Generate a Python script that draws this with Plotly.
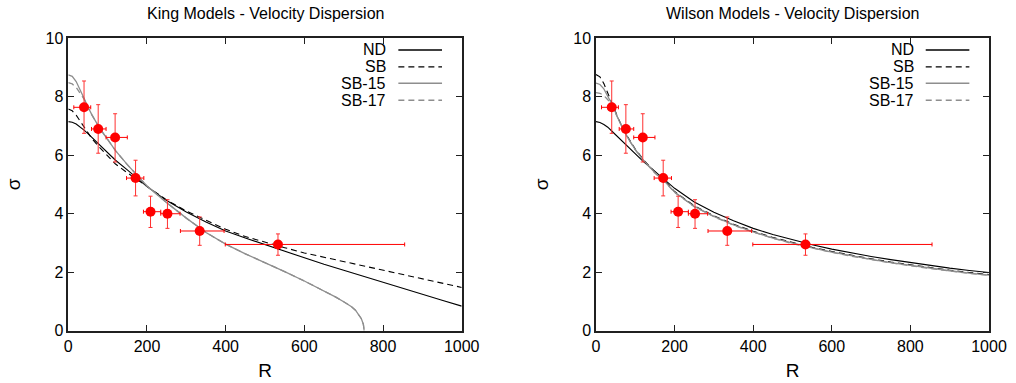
import plotly.graph_objects as go

# ---------------- data ----------------
R = [0, 10, 20, 30, 40, 50, 60, 80, 100, 120, 150, 175, 200, 250, 300, 350, 400,
     450, 500, 550, 600, 650, 700, 750, 800, 850, 900, 950, 1000]

king_nd = [7.15, 7.13, 7.07, 6.98, 6.86, 6.74, 6.61, 6.34, 6.07, 5.83, 5.50, 5.23, 4.93,
           4.45, 4.06, 3.72, 3.41, 3.17, 2.94, 2.72, 2.48, 2.27, 2.07, 1.86, 1.66, 1.45,
           1.25, 1.04, 0.84]
king_sb = [7.58, 7.52, 7.37, 7.17, 6.95, 6.75, 6.57, 6.26, 5.97, 5.70, 5.40, 5.17, 4.92,
           4.47, 4.09, 3.77, 3.47, 3.22, 3.02, 2.84, 2.66, 2.51, 2.36, 2.22, 2.07, 1.92,
           1.78, 1.63, 1.48]

R_king_sbx = [0, 10, 20, 30, 40, 50, 60, 80, 100, 120, 150, 175, 200, 250, 300, 350, 400,
              450, 500, 550, 600, 650, 680, 700, 720, 730, 740, 745, 750, 752]
king_sb15 = [8.75, 8.70, 8.52, 8.25, 7.95, 7.65, 7.38, 6.92, 6.52, 6.16, 5.68, 5.30, 4.95,
             4.38, 3.85, 3.36, 2.96, 2.63, 2.33, 2.02, 1.70, 1.36, 1.15, 0.99, 0.82, 0.70,
             0.53, 0.41, 0.22, 0.0]
king_sb17 = [8.48, 8.44, 8.32, 8.14, 7.92, 7.64, 7.38, 6.92, 6.52, 6.16, 5.68, 5.30, 4.95,
             4.38, 3.85, 3.36, 2.96, 2.63, 2.33, 2.02, 1.70, 1.36, 1.15, 0.99, 0.82, 0.70,
             0.53, 0.41, 0.22, 0.0]

wilson_nd = [7.15, 7.12, 7.05, 6.96, 6.83, 6.70, 6.56, 6.28, 6.03, 5.79, 5.45, 5.16, 4.87,
             4.40, 4.05, 3.76, 3.50, 3.29, 3.11, 2.94, 2.79, 2.66, 2.54, 2.43, 2.33, 2.23,
             2.14, 2.06, 1.99]
wilson_sb = [8.76, 8.68, 8.45, 8.12, 7.78, 7.46, 7.16, 6.64, 6.21, 5.86, 5.42, 5.12, 4.76,
             4.27, 3.93, 3.64, 3.40, 3.19, 3.01, 2.85, 2.71, 2.58, 2.46, 2.35, 2.25, 2.15,
             2.07, 1.99, 1.92]
wilson_sb15 = [8.47, 8.42, 8.27, 8.04, 7.76, 7.45, 7.14, 6.62, 6.19, 5.84, 5.40, 5.10, 4.74,
               4.25, 3.91, 3.62, 3.38, 3.17, 2.99, 2.83, 2.69, 2.56, 2.44, 2.33, 2.23, 2.13,
               2.05, 1.97, 1.90]
wilson_sb17 = [8.14, 8.12, 8.04, 7.90, 7.70, 7.43, 7.13, 6.61, 6.18, 5.83, 5.39, 5.09, 4.73,
               4.24, 3.90, 3.61, 3.37, 3.16, 2.98, 2.82, 2.68, 2.55, 2.43, 2.32, 2.22, 2.12,
               2.04, 1.96, 1.89]

obs_R = [40, 76, 119, 171, 209, 252, 334, 533]
obs_sigma = [7.64, 6.90, 6.61, 5.22, 4.07, 4.00, 3.41, 2.95]
obs_R_lo = [14, 59, 96, 148, 191, 235, 285, 399]
obs_R_hi = [57, 96, 150, 192, 235, 284, 396, 855]
obs_sig_lo = [6.75, 6.07, 5.77, 4.61, 3.53, 3.50, 2.92, 2.58]
obs_sig_hi = [8.54, 7.73, 7.42, 5.83, 4.60, 4.48, 3.89, 3.31]

titles = ["King Models - Velocity Dispersion", "Wilson Models - Velocity Dispersion"]
legend_labels = ["ND", "SB", "SB-15", "SB-17"]

# ---------------- styles ----------------
FONT = "Liberation Sans, Arial, Helvetica, sans-serif"
BLACK = "#000000"
GRAY = "#8e8e8e"
styles = [dict(color=BLACK, dash="solid", width=1.1),
          dict(color=BLACK, dash="6px,4px", width=1.1),
          dict(color=GRAY, dash="solid", width=1.3),
          dict(color=GRAY, dash="6px,4px", width=1.3)]

fig = go.Figure()

panels = [
    ("x", "y", [(R, king_nd), (R, king_sb), (R_king_sbx, king_sb15), (R_king_sbx, king_sb17)]),
    ("x2", "y2", [(R, wilson_nd), (R, wilson_sb), (R, wilson_sb15), (R, wilson_sb17)]),
]

for xa, ya, curves in panels:
    for (xs, ys), st, name in zip(curves, styles, legend_labels):
        fig.add_trace(go.Scatter(x=xs, y=ys, mode="lines", name=name, xaxis=xa, yaxis=ya,
                                 line=dict(color=st["color"], dash=st["dash"], width=st["width"],
                                           shape="linear"),
                                 showlegend=False, hoverinfo="skip"))
    fig.add_trace(go.Scatter(
        x=obs_R, y=obs_sigma, mode="markers", xaxis=xa, yaxis=ya, showlegend=False,
        marker=dict(color="#ff0000", size=10, line=dict(width=0)),
        error_x=dict(type="data", symmetric=False,
                     array=[h - c for h, c in zip(obs_R_hi, obs_R)],
                     arrayminus=[c - l for l, c in zip(obs_R_lo, obs_R)],
                     color="#ff0000", thickness=1, width=2),
        error_y=dict(type="data", symmetric=False,
                     array=[h - c for h, c in zip(obs_sig_hi, obs_sigma)],
                     arrayminus=[c - l for l, c in zip(obs_sig_lo, obs_sigma)],
                     color="#ff3030", thickness=1, width=2),
    ))

axis_common = dict(showgrid=False, zeroline=False, showline=True, linecolor="#202020",
                   linewidth=1.5, mirror="ticks", ticks="inside", ticklen=6,
                   tickcolor="#202020", tickwidth=1, automargin=False,
                   tickfont=dict(family=FONT, size=16, color="#000000"))

dom_y = [1 - 330.7 / 383, 1 - 38.3 / 383]
fig.update_layout(
    width=1016, height=383, margin=dict(l=0, r=0, t=0, b=0, autoexpand=False),
    paper_bgcolor="white", plot_bgcolor="white",
    font=dict(family=FONT, size=16, color="#000000"),
    xaxis=dict(domain=[68.3 / 1016, 461.7 / 1016], range=[0, 1000], tickvals=[0, 200, 400, 600, 800, 1000],
               title=dict(text="R", standoff=10), anchor="y", **axis_common),
    yaxis=dict(domain=dom_y, range=[0, 10], tickvals=[0, 2, 4, 6, 8, 10],
               title=dict(text="σ", standoff=20), anchor="x", **axis_common),
    xaxis2=dict(domain=[596 / 1016, 989 / 1016], range=[0, 1000], tickvals=[0, 200, 400, 600, 800, 1000],
                title=dict(text="R", standoff=10), anchor="y2", **axis_common),
    yaxis2=dict(domain=dom_y, range=[0, 10], tickvals=[0, 2, 4, 6, 8, 10],
                title=dict(text="σ", standoff=20), anchor="x2", **axis_common),
)

annotations = []
shapes = []
row_y = [0.96, 0.902, 0.846, 0.788]
for k, (xa, ya) in enumerate([("x", "y"), ("x2", "y2")]):
    annotations.append(dict(text=titles[k], xref=f"{xa} domain", yref="paper", x=0.5, y=1 - 14 / 383,
                            showarrow=False, xanchor="center", yanchor="middle",
                            font=dict(family=FONT, size=16)))
    for lbl, ry, st in zip(legend_labels, row_y, styles):
        annotations.append(dict(text=lbl, xref=f"{xa} domain", yref=f"{ya} domain", x=0.813, y=ry,
                                showarrow=False, xanchor="right", yanchor="middle",
                                font=dict(family=FONT, size=16)))
        shapes.append(dict(type="line", xref=f"{xa} domain", yref=f"{ya} domain",
                           x0=0.839, x1=0.950, y0=ry, y1=ry,
                           line=dict(color=st["color"], dash=st["dash"], width=st["width"] + 0.2)))
fig.update_layout(annotations=annotations, shapes=shapes)

fig.write_html("out.html")
